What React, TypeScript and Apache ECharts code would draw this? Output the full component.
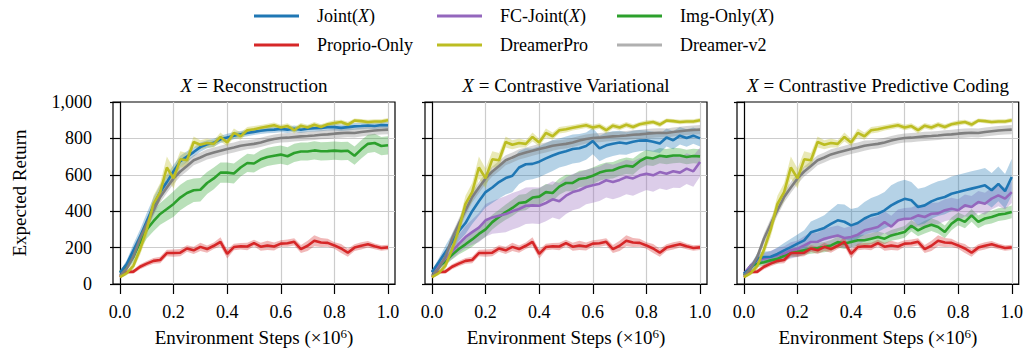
import React, { useEffect, useRef } from 'react';
import * as echarts from 'echarts';

const FONT = '"Liberation Serif", "Times New Roman", serif';

const STEPS = [0, 0.025, 0.05, 0.075, 0.1, 0.125, 0.15, 0.175, 0.2, 0.225, 0.25, 0.275, 0.3, 0.325, 0.35, 0.375, 0.4, 0.425, 0.45, 0.475, 0.5, 0.525, 0.55, 0.575, 0.6, 0.625, 0.65, 0.675, 0.7, 0.725, 0.75, 0.775, 0.8, 0.825, 0.85, 0.875, 0.9, 0.925, 0.95, 0.975, 1.0];
const X_TICKS = [0, 0.2, 0.4, 0.6, 0.8, 1.0];

const PANEL_TITLES = ['Reconstruction', 'Contrastive Variational', 'Contrastive Predictive Coding'];

// Shared baselines
const PROPRIO = [38, 66, 68, 95, 112, 127, 132, 170, 170, 172, 195, 185, 204, 192, 210, 232, 165, 203, 207, 206, 225, 205, 212, 206, 222, 224, 232, 192, 210, 238, 228, 226, 212, 195, 172, 200, 210, 218, 207, 198, 201];
const PROPRIO_SD = [8, 10, 12, 14, 15, 16, 18, 18, 20, 20, 18, 20, 22, 20, 18, 25, 25, 18, 18, 20, 18, 22, 25, 22, 18, 20, 20, 22, 28, 30, 25, 22, 18, 25, 22, 18, 20, 18, 16, 15, 14];
const DREAMER_PRO = [38, 60, 100, 190, 300, 440, 505, 640, 580, 685, 680, 780, 765, 775, 770, 808, 778, 830, 812, 845, 850, 858, 865, 872, 860, 868, 845, 870, 860, 875, 863, 878, 885, 890, 876, 898, 895, 890, 893, 893, 900];
const DREAMER_PRO_SD = [8, 12, 20, 30, 40, 45, 50, 60, 55, 45, 40, 30, 25, 25, 20, 25, 20, 25, 20, 18, 18, 15, 15, 15, 15, 15, 18, 15, 15, 15, 15, 12, 15, 12, 15, 12, 12, 12, 12, 12, 12];
const DREAMER_V2 = [45, 85, 150, 250, 330, 405, 478, 530, 580, 618, 648, 680, 695, 712, 722, 732, 742, 750, 760, 765, 770, 778, 788, 797, 802, 804, 808, 811, 813, 816, 820, 822, 826, 829, 831, 830, 835, 839, 843, 846, 848];
const DREAMER_V2_SD = [8, 12, 20, 28, 30, 30, 30, 30, 30, 28, 28, 28, 28, 28, 28, 28, 28, 28, 28, 25, 25, 25, 25, 25, 25, 25, 25, 25, 25, 25, 25, 25, 25, 25, 25, 25, 25, 25, 25, 25, 25];

// Reconstruction
const JOINT_REC = [62, 110, 185, 260, 345, 430, 505, 560, 620, 675, 700, 725, 752, 768, 776, 795, 805, 815, 823, 830, 836, 842, 846, 848, 852, 848, 853, 848, 853, 856, 857, 862, 862, 858, 862, 866, 868, 871, 868, 874, 872];
const JOINT_REC_SD = [10, 20, 35, 40, 45, 45, 40, 40, 35, 30, 30, 25, 25, 22, 22, 20, 20, 20, 18, 18, 18, 18, 18, 18, 18, 18, 18, 18, 18, 18, 18, 18, 18, 18, 18, 18, 18, 18, 18, 18, 18];
const IMG_REC = [66, 95, 150, 230, 300, 345, 385, 412, 440, 475, 500, 515, 518, 555, 580, 612, 612, 607, 640, 665, 662, 685, 698, 705, 711, 702, 720, 728, 728, 734, 729, 730, 733, 730, 732, 705, 740, 770, 775, 758, 762];
const IMG_REC_SD = [10, 20, 30, 40, 50, 55, 60, 65, 70, 70, 70, 65, 65, 60, 60, 55, 55, 55, 50, 50, 50, 50, 50, 50, 50, 50, 50, 50, 50, 50, 50, 50, 50, 50, 50, 50, 50, 50, 50, 50, 50];

// Contrastive Variational
const JOINT_CV = [66, 120, 175, 230, 290, 335, 400, 455, 505, 530, 560, 582, 595, 640, 658, 660, 672, 690, 706, 720, 730, 742, 746, 758, 785, 745, 762, 771, 777, 772, 782, 788, 789, 782, 772, 805, 790, 815, 802, 815, 800];
const JOINT_CV_SD = [10, 20, 35, 45, 55, 60, 70, 80, 85, 85, 90, 90, 90, 90, 88, 85, 85, 85, 85, 80, 80, 80, 78, 75, 72, 70, 70, 68, 65, 62, 60, 58, 55, 55, 52, 50, 50, 48, 48, 45, 45];
const FC_CV = [66, 100, 140, 178, 220, 258, 285, 310, 350, 366, 375, 384, 400, 412, 430, 432, 430, 445, 465, 455, 485, 505, 515, 533, 542, 551, 570, 560, 572, 588, 580, 597, 606, 597, 615, 606, 619, 612, 634, 619, 670];
const FC_CV_SD = [10, 20, 30, 40, 50, 60, 70, 80, 90, 90, 95, 100, 100, 100, 100, 100, 100, 100, 100, 100, 100, 100, 100, 95, 95, 95, 95, 95, 95, 95, 95, 95, 90, 90, 90, 90, 90, 85, 85, 85, 80];
const IMG_CV = [66, 95, 125, 160, 192, 218, 245, 275, 300, 340, 368, 395, 418, 445, 450, 475, 480, 505, 500, 535, 555, 555, 577, 582, 595, 612, 622, 625, 640, 650, 645, 675, 695, 690, 705, 700, 706, 706, 698, 703, 701];
const IMG_CV_SD = [10, 15, 20, 25, 30, 35, 40, 40, 40, 40, 40, 42, 45, 45, 45, 45, 45, 45, 45, 45, 45, 45, 45, 45, 45, 45, 45, 45, 45, 45, 45, 42, 42, 42, 42, 42, 42, 40, 40, 40, 40];

// Contrastive Predictive Coding
const JOINT_CPC = [57, 85, 140, 148, 150, 165, 185, 203, 222, 240, 284, 295, 308, 330, 350, 342, 322, 335, 360, 377, 386, 405, 432, 452, 468, 460, 423, 432, 454, 469, 478, 496, 505, 515, 524, 533, 542, 515, 550, 510, 588];
const JOINT_CPC_SD = [10, 20, 30, 30, 30, 35, 40, 45, 50, 55, 60, 65, 70, 80, 90, 95, 90, 85, 90, 95, 100, 100, 110, 110, 105, 100, 100, 100, 95, 95, 95, 95, 95, 95, 95, 95, 95, 95, 95, 95, 100];
const FC_CPC = [57, 100, 130, 140, 148, 158, 167, 185, 194, 212, 231, 232, 249, 258, 267, 253, 258, 271, 295, 304, 313, 340, 315, 350, 358, 360, 377, 368, 386, 388, 405, 414, 405, 432, 423, 451, 441, 469, 487, 469, 505];
const FC_CPC_SD = [10, 15, 25, 30, 35, 40, 40, 45, 45, 50, 50, 50, 55, 55, 55, 55, 60, 60, 60, 60, 60, 60, 60, 60, 60, 60, 60, 60, 60, 60, 60, 60, 60, 60, 60, 60, 60, 60, 60, 60, 60];
const IMG_CPC = [50, 100, 112, 120, 130, 138, 155, 170, 176, 185, 194, 198, 203, 212, 230, 222, 231, 240, 240, 249, 258, 249, 267, 276, 286, 320, 295, 313, 326, 313, 286, 331, 358, 341, 377, 341, 360, 368, 381, 386, 396];
const IMG_CPC_SD = [8, 12, 18, 20, 22, 25, 25, 25, 25, 25, 28, 28, 28, 30, 30, 30, 30, 30, 30, 30, 30, 30, 30, 32, 32, 32, 32, 35, 35, 35, 35, 35, 35, 35, 35, 35, 35, 35, 35, 35, 35];

const COLORS: Record<string, string> = {
  'Joint(X)': '#1f77b4',
  'FC-Joint(X)': '#9467bd',
  'Img-Only(X)': '#2ca02c',
  'Proprio-Only': '#d62728',
  'DreamerPro': '#bcbd22',
  'Dreamer-v2': '#7f7f7f',
};

type Curve = { name: string; mean: number[]; sd: number[] };

const PANELS: Curve[][] = [
  [
    { name: 'Img-Only(X)', mean: IMG_REC, sd: IMG_REC_SD },
    { name: 'Joint(X)', mean: JOINT_REC, sd: JOINT_REC_SD },
    { name: 'Proprio-Only', mean: PROPRIO, sd: PROPRIO_SD },
    { name: 'Dreamer-v2', mean: DREAMER_V2, sd: DREAMER_V2_SD },
    { name: 'DreamerPro', mean: DREAMER_PRO, sd: DREAMER_PRO_SD },
  ],
  [
    { name: 'Img-Only(X)', mean: IMG_CV, sd: IMG_CV_SD },
    { name: 'FC-Joint(X)', mean: FC_CV, sd: FC_CV_SD },
    { name: 'Joint(X)', mean: JOINT_CV, sd: JOINT_CV_SD },
    { name: 'Proprio-Only', mean: PROPRIO, sd: PROPRIO_SD },
    { name: 'Dreamer-v2', mean: DREAMER_V2, sd: DREAMER_V2_SD },
    { name: 'DreamerPro', mean: DREAMER_PRO, sd: DREAMER_PRO_SD },
  ],
  [
    { name: 'Img-Only(X)', mean: IMG_CPC, sd: IMG_CPC_SD },
    { name: 'FC-Joint(X)', mean: FC_CPC, sd: FC_CPC_SD },
    { name: 'Joint(X)', mean: JOINT_CPC, sd: JOINT_CPC_SD },
    { name: 'Proprio-Only', mean: PROPRIO, sd: PROPRIO_SD },
    { name: 'Dreamer-v2', mean: DREAMER_V2, sd: DREAMER_V2_SD },
    { name: 'DreamerPro', mean: DREAMER_PRO, sd: DREAMER_PRO_SD },
  ],
];

const LEGEND_ITEMS: [string, number, number][] = [
  ['Joint(X)', 254, 6],
  ['FC-Joint(X)', 437, 6],
  ['Img-Only(X)', 617, 6],
  ['Proprio-Only', 254, 35],
  ['DreamerPro', 437, 35],
  ['Dreamer-v2', 617, 35],
];

const PANEL_LEFT = [113, 425, 737];
const PANEL_W = 282;
const PANEL_TOP = 102;
const PANEL_H = 182;

function bandSeries(c: Curve, g: number) {
  const data = STEPS.map((x, i) => [x, c.mean[i] - c.sd[i], c.mean[i] + c.sd[i]]);
  return {
    type: 'custom', name: `band-${g}-${c.name}`, xAxisIndex: g, yAxisIndex: g,
    data, silent: true, z: 2, clip: true,
    encode: { x: 0, y: [1, 2] },
    renderItem: (params: any, api: any) => {
      if (params.dataIndex !== 0) return null;
      const upper = data.map((d) => api.coord([d[0], d[2]]));
      const lower = data.map((d) => api.coord([d[0], d[1]])).reverse();
      return {
        type: 'polygon',
        shape: { points: upper.concat(lower) },
        style: { fill: COLORS[c.name], opacity: 0.33 },
      };
    },
  };
}

function buildOption() {
  const grid = PANEL_LEFT.map((l) => ({
    left: l, top: PANEL_TOP, width: PANEL_W, height: PANEL_H,
    show: true, borderColor: '#000', borderWidth: 1.2, backgroundColor: 'transparent',
  }));
  const axisLine = { show: true, lineStyle: { color: '#000', width: 1.2 } };
  const splitLine = { show: true, showMinLine: false, showMaxLine: false, lineStyle: { color: '#cccccc', width: 1.2 } };
  const xAxis = PANEL_LEFT.map((_, g) => ({
    type: 'value', gridIndex: g, min: -0.026, max: 1.026,
    axisLine,
    axisTick: { show: true, customValues: X_TICKS, length: 10, lineStyle: { color: '#000', width: 1.2 } },
    axisLabel: { customValues: X_TICKS, formatter: (v: number) => v.toFixed(1), margin: 19, color: '#000', fontFamily: FONT, fontSize: 18 },
    splitLine: { show: true, lineStyle: { color: '#cccccc', width: 1.2 } },
    name: 'Environment Steps (×10{s|6})',
    nameLocation: 'middle', nameGap: 43,
    nameTextStyle: {
      color: '#000', fontFamily: FONT, fontSize: 19,
      rich: { s: { fontFamily: FONT, fontSize: 13, verticalAlign: 'top', color: '#000', padding: [0, 0, 8, 0] } },
    },
  }));
  const yAxis = PANEL_LEFT.map((_, g) => ({
    type: 'value', gridIndex: g, min: 0, max: 1000, interval: 200,
    axisLine,
    axisTick: { show: true, length: 10, lineStyle: { color: '#000', width: 1.2 } },
    axisLabel: {
      show: g === 0, margin: 21, color: '#000', fontFamily: FONT, fontSize: 18,
      formatter: (v: number) => (v >= 1000 ? '1,000' : String(v)),
    },
    splitLine,
    name: g === 0 ? 'Expected Return' : '',
    nameLocation: 'middle', nameGap: 84,
    nameTextStyle: { color: '#000', fontFamily: FONT, fontSize: 19 },
  }));

  const series: any[] = [];
  PANELS.forEach((curves, g) => {
    curves.forEach((c) => series.push(bandSeries(c, g)));
    curves.forEach((c) => {
      series.push({
        type: 'line', name: c.name, xAxisIndex: g, yAxisIndex: g,
        data: STEPS.map((x, i) => [x, c.mean[i]]),
        symbol: 'none', silent: true, z: 3,
        lineStyle: { color: COLORS[c.name], width: 2.6 },
        itemStyle: { color: COLORS[c.name] },
      });
    });
  });

  const legend = LEGEND_ITEMS.map(([name, left, top]) => ({
    data: [name === 'Dreamer-v2' ? { name, itemStyle: { color: '#b0b0b0' } } : { name }],
    left, top, padding: 0, icon: 'rect', itemWidth: 45, itemHeight: 3, selectedMode: false,
    formatter: (n: string) => n.replace('(X)', '({i|X})'),
    textStyle: {
      color: '#000', fontFamily: FONT, fontSize: 18, lineHeight: 20, padding: [0, 0, 0, 13],
      rich: { i: { fontFamily: FONT, fontSize: 18, fontStyle: 'italic', color: '#000', lineHeight: 20 } },
    },
  }));

  const graphic = PANEL_TITLES.map((t, g) => ({
    type: 'text', x: PANEL_LEFT[g] + PANEL_W / 2, y: 85, silent: true,
    style: {
      text: `{i|X} = ${t}`, fill: '#000', fontFamily: FONT, fontSize: 19,
      align: 'center', verticalAlign: 'middle',
      rich: { i: { fontFamily: FONT, fontSize: 19, fontStyle: 'italic', fill: '#000' } },
    },
  }));

  return { animation: false, backgroundColor: '#fff', grid, xAxis, yAxis, series, legend, graphic };
}

export default function App() {
  const ref = useRef<HTMLDivElement>(null);
  useEffect(() => {
    const chart = echarts.init(ref.current!, null, { renderer: 'svg' });
    chart.setOption(buildOption() as any);
    return () => chart.dispose();
  }, []);
  return <div ref={ref} style={{ position: 'absolute', left: 0, top: 0, width: 1026, height: 352 }} />;
}
